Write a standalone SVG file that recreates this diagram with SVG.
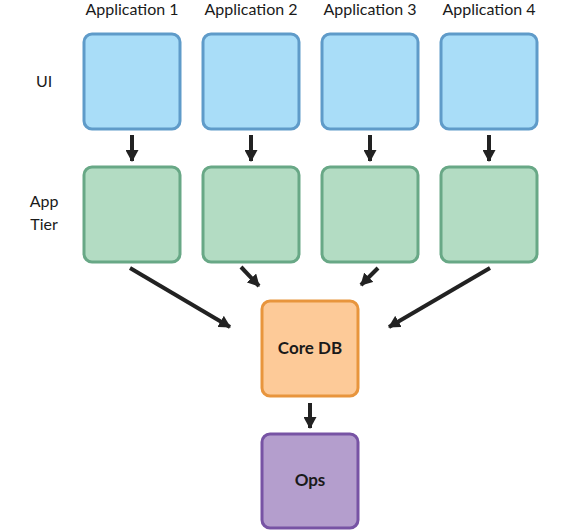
<svg xmlns="http://www.w3.org/2000/svg" width="566" height="530" viewBox="0 0 566 530">
<style>
.lbl{font-family:Lato,"Noto Sans","Liberation Sans",sans-serif;font-size:16px;fill:#1a1a1a;text-anchor:middle}
.bold{font-family:Lato,"Noto Sans","Liberation Sans",sans-serif;font-size:17px;font-weight:bold;fill:#1a1a1a;text-anchor:middle}
.ui{fill:#a9ddf8;stroke:#5f9bc9;stroke-width:3}
.app{fill:#b3dcc3;stroke:#68a886;stroke-width:3}
.db{fill:#fdca98;stroke:#e8953d;stroke-width:3}
.ops{fill:#b49ecd;stroke:#7753a4;stroke-width:3}
.arr{stroke:#222;stroke-width:4;fill:none;marker-end:url(#ah)}
</style>
<defs>
<marker id="ah" markerUnits="userSpaceOnUse" viewBox="0 0 12 13" refX="11" refY="6.5" markerWidth="12" markerHeight="13" orient="auto">
<path d="M0,0 L12,6.5 L0,13 z" fill="#222"/>
</marker>
</defs>
<text class="lbl" x="132" y="15">Application 1</text>
<text class="lbl" x="251" y="15">Application 2</text>
<text class="lbl" x="370" y="15">Application 3</text>
<text class="lbl" x="489" y="15">Application 4</text>
<text class="lbl" x="44" y="87">UI</text>
<text class="lbl" x="44" y="207">App</text>
<text class="lbl" x="44" y="230">Tier</text>
<g id="ui1"><rect class="ui" x="84" y="34" width="96" height="95" rx="8"/></g>
<g id="ui2"><rect class="ui" x="203" y="34" width="96" height="95" rx="8"/></g>
<g id="ui3"><rect class="ui" x="322" y="34" width="96" height="95" rx="8"/></g>
<g id="ui4"><rect class="ui" x="441" y="34" width="96" height="95" rx="8"/></g>
<g id="app1"><rect class="app" x="84" y="167" width="96" height="95" rx="8"/></g>
<g id="app2"><rect class="app" x="203" y="167" width="96" height="95" rx="8"/></g>
<g id="app3"><rect class="app" x="322" y="167" width="96" height="95" rx="8"/></g>
<g id="app4"><rect class="app" x="441" y="167" width="96" height="95" rx="8"/></g>
<g id="coredb"><rect class="db" x="262" y="301" width="96" height="95" rx="8"/><text class="bold" x="310" y="354">Core DB</text></g>
<g id="ops"><rect class="ops" x="262" y="434" width="96" height="94" rx="8"/><text class="bold" x="310" y="486">Ops</text></g>
<g id="connectors">
<line class="arr" x1="132" y1="135" x2="132" y2="161"/>
<line class="arr" x1="251" y1="135" x2="251" y2="161"/>
<line class="arr" x1="370" y1="135" x2="370" y2="161"/>
<line class="arr" x1="489" y1="135" x2="489" y2="161"/>
<line class="arr" x1="130" y1="268" x2="230" y2="327"/>
<line class="arr" x1="241" y1="267" x2="259" y2="286"/>
<line class="arr" x1="378" y1="268" x2="361" y2="285"/>
<line class="arr" x1="490" y1="268" x2="389" y2="327"/>
<line class="arr" x1="310" y1="403" x2="310" y2="428"/>
</g>
</svg>
